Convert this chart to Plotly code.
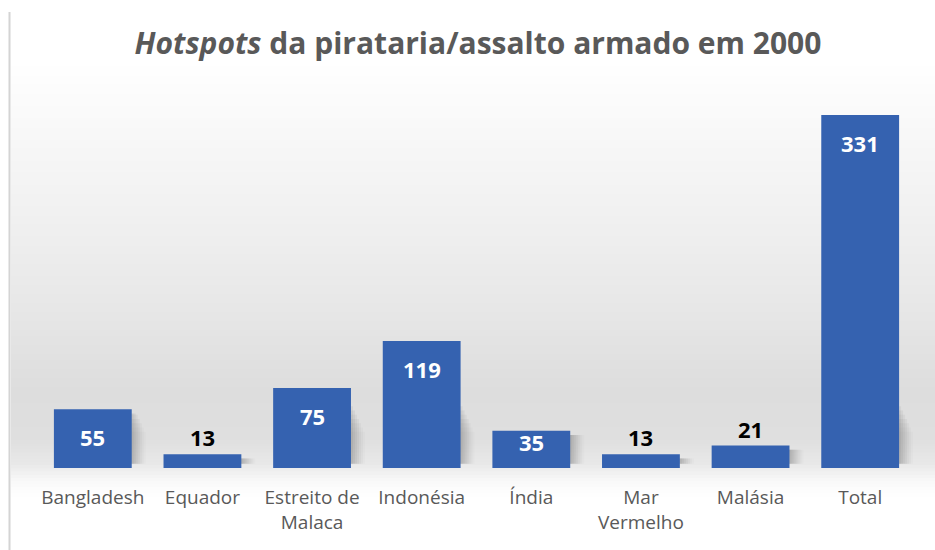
import plotly.graph_objects as go

categories = ["Bangladesh", "Equador", "Estreito de<br>Malaca", "Indonésia", "Índia",
              "Mar<br>Vermelho", "Malásia", "Total"]
values = [55, 13, 75, 119, 35, 13, 21, 331]
title_html = "<i>Hotspots</i> da pirataria/assalto armado em 2000"

# style
W, H = 935, 550
L, R, T, B = 38, 20, 105, 82
plot_h = H - T - B
FONT = "Open Sans"
BAR = "#3562b0"
BW = 0.71
cat_px = (W - L - R) / len(categories)

fig = go.Figure()

# soft shadow to the right of each bar
idx = list(range(len(categories)))
layers = [(2, 0.06, 62), (4, 0.06, 58), (6, 0.05, 54), (8, 0.05, 50), (10, 0.04, 46),
          (12, 0.03, 42), (14, 0.02, 38)]
for shift, alpha, cap in layers:
    fig.add_trace(go.Bar(
        x=idx, y=[max(0, min(v, cap) - 8) for v in values], base=4,
        width=BW, offset=-BW / 2 + shift / cat_px,
        marker=dict(color=f"rgba(50,50,50,{alpha})", line=dict(width=0)),
        hoverinfo="skip",
    ))

fig.add_trace(go.Bar(
    x=idx, y=values, marker=dict(color=BAR, line=dict(width=0)),
    width=BW, offset=-BW / 2, hoverinfo="skip",
))

# data labels
for i, v in zip(idx, values):
    if v >= 50:
        ys, col = -28, "white"
    elif v >= 30:
        ys, col = -11, "white"
    else:
        ys, col = 17, "black"
    fig.add_annotation(x=i, y=v, text=f"<b>{v}</b>", showarrow=False, yanchor="middle",
                       yshift=ys, font=dict(family=FONT, size=22, color=col))

# background gradient bands (pixel rows -> paper coords)
def py2paper(py):
    return (H - B - py) / plot_h

def px2paper(px):
    return (px - L) / (W - L - R)

stops = [(60, 255), (100, 251), (200, 242), (300, 232), (390, 221), (440, 223), (465, 233),
         (478, 246), (490, 253), (500, 255)]
for i in range(len(stops) - 1):
    y0, g0 = stops[i]
    y1, g1 = stops[i + 1]
    n = max(1, (y1 - y0) // 3)
    for k in range(n):
        ya = y0 + (y1 - y0) * k / n
        yb = y0 + (y1 - y0) * (k + 1) / n + 1.5
        g = round(g0 + (g1 - g0) * (k + 0.5) / n)
        fig.add_shape(type="rect", xref="paper", yref="paper",
                      x0=px2paper(11), x1=px2paper(935), y0=py2paper(yb), y1=py2paper(ya),
                      fillcolor=f"rgb({g},{g},{g})", line=dict(width=0), layer="below")

# left border line
fig.add_shape(type="line", xref="paper", yref="paper", x0=px2paper(9.5), x1=px2paper(9.5),
              y0=py2paper(550), y1=py2paper(12), line=dict(color="#d4d4d4", width=2))

fig.update_layout(
    width=W, height=H,
    margin=dict(l=L, r=R, t=T, b=B),
    paper_bgcolor="white", plot_bgcolor="rgba(0,0,0,0)",
    title=dict(text=title_html, x=478 / W, xanchor="center", y=1 - 43 / H, yanchor="middle",
               font=dict(family=FONT, size=30, weight="bold", color="#595959")),
    barmode="overlay",
    showlegend=False,
    xaxis=dict(showgrid=False, zeroline=False, showline=False, ticks="",
               tickmode="array", tickvals=idx, ticktext=categories,
               range=[-0.5, len(categories) - 0.5],
               ticklabelstandoff=16,
               tickfont=dict(family=FONT, size=19, color="#595959")),
    yaxis=dict(range=[0, plot_h / ((468 - 115) / 331)], visible=False, showgrid=False),
)

fig.write_html("out.html", config={"displayModeBar": False},
               post_script="document.body.style.margin='0';")
